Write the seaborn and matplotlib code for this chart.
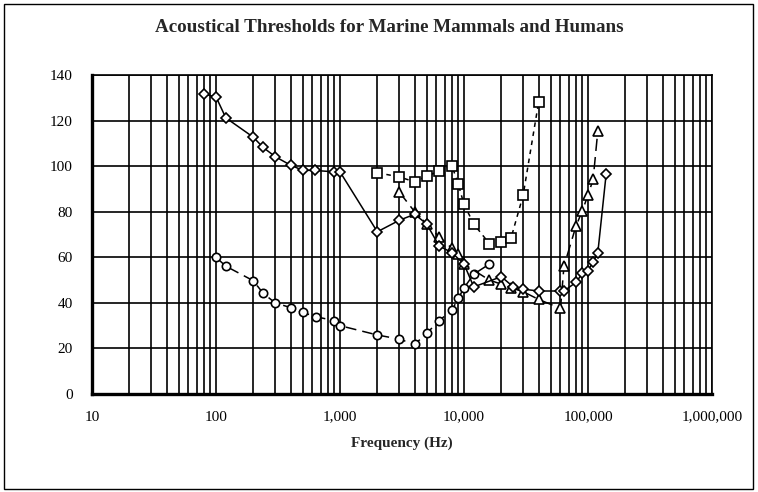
import matplotlib
matplotlib.use("Agg")
import matplotlib.pyplot as plt
import seaborn as sns
from matplotlib.ticker import FixedLocator, FuncFormatter, NullFormatter
from matplotlib.patches import Rectangle

# Hearing thresholds (dB) against frequency (Hz)
dolphin_freq = [80, 100, 120, 200, 240, 300, 400, 500, 630, 900, 1000, 2000, 3000, 4000,
                5000, 6300, 8000, 10000, 12000, 20000, 25000, 30000, 40000, 60000, 64000,
                80000, 90000, 100000, 110000, 120000, 140000]
dolphin_db = [131.6, 130.4, 121.2, 112.7, 108.2, 104.2, 100.4, 98.2, 98.1, 97.5, 97.5, 71.2,
              76.2, 78.9, 74.6, 65.0, 62.0, 57.0, 47.0, 51.5, 47.0, 46.0, 45.2, 45.2, 45.2,
              49.0, 52.9, 54.2, 58.0, 62.0, 96.4]

human_freq = [100, 120, 200, 240, 300, 400, 500, 640, 900, 1000, 2000, 3000, 4000, 5000,
              6300, 8000, 9000, 10000, 12000, 16000]
human_db = [60.0, 56.1, 49.7, 44.2, 40.0, 37.9, 35.8, 33.9, 32.2, 30.0, 25.9, 24.1, 21.8,
            26.6, 32.2, 36.8, 42.0, 46.6, 52.6, 57.0]

seal_freq = [2000, 3000, 4000, 5000, 6300, 8000, 9000, 10000, 12000, 16000, 20000, 24000,
             30000, 40000]
seal_db = [97.1, 95.3, 93.1, 95.6, 97.8, 100.1, 92.0, 83.2, 74.6, 66.0, 66.8, 68.6, 87.3, 128.2]

whale_freq = [3000, 4000, 5000, 6300, 8000, 9000, 10000, 16000, 20000, 24000, 30000, 40000,
              60000, 64000, 80000, 90000, 100000, 110000, 120000]
whale_db = [88.7, 80.0, 74.6, 69.0, 63.9, 61.4, 57.0, 50.0, 48.2, 46.6, 44.9, 41.5, 37.6,
            56.1, 73.7, 80.4, 87.3, 94.2, 115.5]

x_ticks = [10, 100, 1000, 10000, 100000, 1000000]
y_ticks = [0, 20, 40, 60, 80, 100, 120, 140]

sns.set_style("white")
plt.rcParams['font.family'] = ['Liberation Serif', 'DejaVu Serif']

W, H = 758, 492
fig = plt.figure(figsize=(W / 100, H / 100), dpi=100)
ax = fig.add_axes([92 / W, 1 - 394 / H, 620 / W, 319 / H])

common = dict(ax=ax, color="black", linewidth=1.1, markerfacecolor="white",
              markeredgecolor="black", markeredgewidth=1.2, estimator=None,
              sort=False, legend=False)

sns.lineplot(x=human_freq, y=human_db, marker="o", markersize=6,
             linestyle=(0, (7, 4)), **common)
sns.lineplot(x=seal_freq, y=seal_db, marker="s", markersize=7,
             linestyle=(0, (3, 3)), **common)
sns.lineplot(x=whale_freq, y=whale_db, marker="^", markersize=7,
             linestyle=(0, (8, 4)), **common)
sns.lineplot(x=dolphin_freq, y=dolphin_db, marker="D", markersize=5.5,
             linestyle="-", **common)

ax.set_xscale("log")
ax.set_xlim(10, 1e6)
ax.set_ylim(0, 140)

minor = [m * 10 ** e for e in range(1, 6) for m in range(2, 10)]
ax.xaxis.set_major_locator(FixedLocator(x_ticks))
ax.xaxis.set_minor_locator(FixedLocator(minor))
ax.xaxis.set_major_formatter(FuncFormatter(lambda v, p: f"{int(round(v)):,}"))
ax.xaxis.set_minor_formatter(NullFormatter())
ax.yaxis.set_major_locator(FixedLocator(y_ticks))

ax.grid(True, which="both", axis="x", color="black", linewidth=1.2)
ax.grid(True, which="major", axis="y", color="black", linewidth=1.2)
ax.set_axisbelow(True)

for s in ax.spines.values():
    s.set_color("black")
    s.set_linewidth(1.2)
ax.spines["left"].set_linewidth(2.4)
ax.spines["bottom"].set_linewidth(2.4)

ax.tick_params(axis="both", which="both", length=0, labelsize=11, colors="black")
ax.tick_params(axis="x", pad=12)
ax.tick_params(axis="y", pad=14)

ax.set_xlabel("Frequency (Hz)", fontsize=11, fontweight="bold", labelpad=9)
ax.set_ylabel("")

fig.text(389 / W, 1 - 28 / H, "Acoustical Thresholds for Marine Mammals and Humans",
         ha="center", va="center", fontsize=13.7, fontweight="bold")

fig.patches.append(Rectangle((4 / W, 3 / H), 749 / W, 485 / H, transform=fig.transFigure,
                             fill=False, edgecolor="black", linewidth=1.0))

fig.savefig("out.png", dpi=100)
